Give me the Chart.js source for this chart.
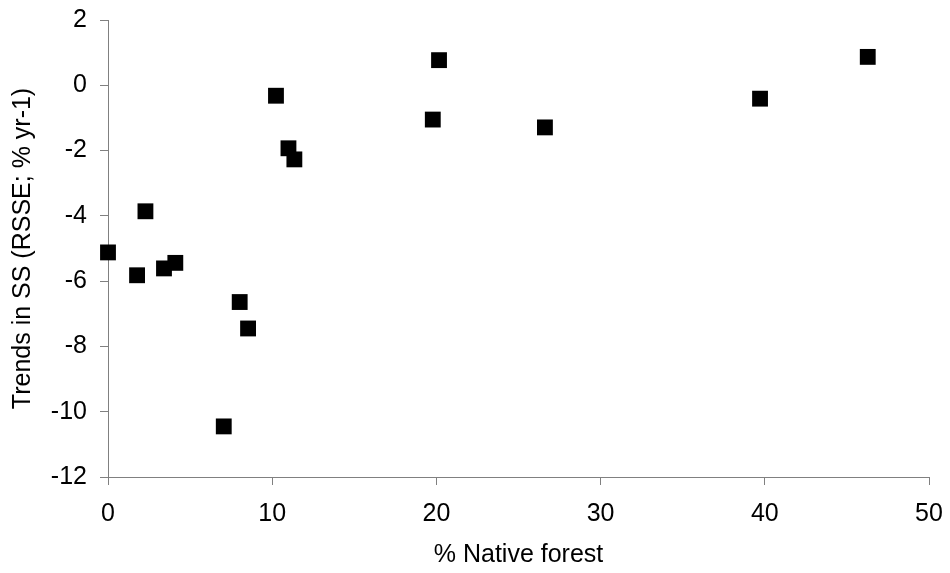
<!DOCTYPE html>
<html>
<head>
<meta charset="utf-8">
<script src="https://cdn.jsdelivr.net/npm/chart.js@4/dist/chart.umd.min.js"></script>
<style>
  html, body { margin: 0; padding: 0; background: #fff; }
  #wrap { width: 950px; height: 573px; }
</style>
</head>
<body>
<div id="wrap"><canvas id="chart" width="950" height="573"></canvas></div>
<script>
// % native forest vs trend in SS
const nativeForest = [0, 1.77, 2.28, 3.41, 4.10, 7.05, 8.02, 8.53, 10.23, 10.99, 11.35, 19.78, 20.16, 26.61, 39.71, 46.27];
const ssTrend = [-5.12, -5.82, -3.86, -5.61, -5.44, -10.45, -6.64, -7.45, -0.32, -1.93, -2.27, -1.05, 0.77, -1.29, -0.41, 0.87];
const xTicks = [0, 10, 20, 30, 40, 50];
const yTicks = [-12, -10, -8, -6, -4, -2, 0, 2];

const axisGray = "#808080";
const labelFont = { family: "'Liberation Sans', Arial, sans-serif", size: 25 };

const points = nativeForest.map(function (x, i) {
  return { x: x, y: ssTrend[i] };
});

const ctx = document.getElementById("chart").getContext("2d");
new Chart(ctx, {
  type: "scatter",
  data: {
    datasets: [
      {
        data: points,
        pointStyle: "rect",
        pointRadius: 11.2,
        pointHoverRadius: 11.2,
        backgroundColor: "#000",
        borderColor: "#000",
        borderWidth: 0,
        clip: false,
      },
    ],
  },
  options: {
    responsive: false,
    animation: false,
    layout: { padding: { top: 20, right: 21, bottom: 0, left: 0 } },
    plugins: { legend: { display: false }, tooltip: { enabled: false } },
    scales: {
      x: {
        type: "linear",
        min: 0,
        max: 50,
        afterBuildTicks: function (s) {
          s.ticks = xTicks.map(function (v) { return { value: v }; });
        },
        afterFit: function (s) {
          s.height = 96;
          s.paddingLeft = 0;
          s.paddingRight = 0;
        },
        grid: { drawOnChartArea: false, tickLength: 8, color: axisGray },
        border: { color: axisGray, width: 1 },
        ticks: { color: "#000", font: labelFont, padding: 14, maxRotation: 0 },
        title: {
          display: true,
          text: "% Native forest",
          color: "#000",
          font: labelFont,
          padding: { top: 0, bottom: 3 },
        },
      },
      y: {
        type: "linear",
        min: -12,
        max: 2,
        afterBuildTicks: function (s) {
          s.ticks = yTicks.map(function (v) { return { value: v }; });
        },
        afterFit: function (s) {
          s.width = 108;
          s.paddingTop = 0;
          s.paddingBottom = 0;
        },
        grid: { drawOnChartArea: false, tickLength: 8, color: axisGray },
        border: { color: axisGray, width: 1 },
        ticks: { color: "#000", font: labelFont, padding: 13 },
        title: {
          display: true,
          text: "Trends in SS (RSSE; % yr-1)",
          color: "#000",
          font: labelFont,
          padding: { top: 8, bottom: 0 },
        },
      },
    },
  },
});
</script>
</body>
</html>
